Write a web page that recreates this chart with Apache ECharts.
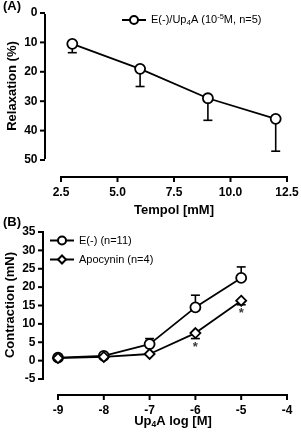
<!DOCTYPE html>
<html>
<head>
<meta charset="utf-8">
<script src="https://cdn.jsdelivr.net/npm/echarts@6/dist/echarts.min.js"></script>
<style>
  html, body { margin: 0; padding: 0; background: #fff; }
  #main { width: 301px; height: 434px; }
</style>
</head>
<body>
<div id="main"></div>
<script>
// panel A
var tempolX = [3, 6, 9, 12];
var relaxMean = [10.5, 19, 29, 36];
var relaxErr = [13.5, 25, 36.5, 47];
var xTicksA = [2.5, 5, 7.5, 10, 12.5];
var yTicksA = [0, 10, 20, 30, 40, 50];

// panel B
var logDose = [-9, -8, -7, -6, -5];
var ctrlMean = [0.8, 1.3, 4.5, 14.5, 22.5];
var ctrlErr = [1.0, 1.6, 6.0, 17.8, 25.5];
var apoMean = [0.7, 1.0, 1.8, 7.5, 16.3];
var apoErr = [0.6, 0.9, 1.6, 6.0, 15.2];
var starX = [-6, -5];
var starY = [3.6, 12.8];
var xTicksB = [-9, -8, -7, -6, -5, -4];
var yTicksB = [-5, 0, 5, 10, 15, 20, 25, 30, 35];

var font = 'Liberation Sans, Arial, sans-serif';
var labelFont = 'bold 12px ' + font;
var myChart = echarts.init(document.getElementById('main'));

function pairs(xs, ys) {
	return xs.map(function(x, i) { return [x, ys[i]]; });
}

function errData(xs, means, errs) {
	return xs.map(function(x, i) { return [x, means[i], errs[i]]; });
}

// error bar: mean -> err with a small cap
function errBar(params, api) {
	var p0 = api.coord([api.value(0), api.value(1)]);
	var p1 = api.coord([api.value(0), api.value(2)]);
	var st = { stroke: '#000', lineWidth: 1.6 };
	return {
		type: 'group',
		children: [
			{ type: 'line', shape: { x1: p0[0], y1: p0[1], x2: p1[0], y2: p1[1] }, style: st },
			{ type: 'line', shape: { x1: p1[0] - 4.5, y1: p1[1], x2: p1[0] + 4.5, y2: p1[1] }, style: st }
		]
	};
}

// detached axes, drawn as lines only (same pattern as the error bars)
function yAxisLines(shift) {
	return function(params, api) {
		var xe = api.value(0);
		var p = api.coord([xe, api.value(1)]);
		var x = p[0] - shift;
		var st = { stroke: '#000', lineWidth: 2 };
		var kids = [{ type: 'line', shape: { x1: x - 5, y1: p[1], x2: x, y2: p[1] }, style: st }];
		if (params.dataIndex === 0) {
			var q = api.coord([xe, api.value(2)]);
			kids.push({ type: 'line', shape: { x1: x, y1: p[1] + 1, x2: x, y2: q[1] - 1 }, style: st });
		}
		return { type: 'group', children: kids };
	};
}

function xAxisLines(shift) {
	return function(params, api) {
		var ye = api.value(1);
		var p = api.coord([api.value(0), ye]);
		var y = p[1] + shift;
		var st = { stroke: '#000', lineWidth: 2 };
		var kids = [{ type: 'line', shape: { x1: p[0], y1: y, x2: p[0], y2: y + 5 }, style: st }];
		if (params.dataIndex === 0) {
			var q = api.coord([api.value(2), ye]);
			kids.push({ type: 'line', shape: { x1: p[0] - 1, y1: y, x2: q[0] + 1, y2: y }, style: st });
		}
		return { type: 'group', children: kids };
	};
}

function yAxisText(shift) {
	return function(params, api) {
		var p = api.coord([api.value(0), api.value(1)]);
		return { type: 'text', x: p[0] - shift - 7.5, y: p[1],
			style: { text: String(api.value(1)), font: labelFont, fill: '#000', align: 'right', verticalAlign: 'middle' } };
	};
}

function xAxisText(shift, dec) {
	return function(params, api) {
		var v = api.value(0);
		var p = api.coord([v, api.value(1)]);
		return { type: 'text', x: p[0], y: p[1] + shift + 10,
			style: { text: dec ? v.toFixed(1) : String(v), font: labelFont, fill: '#000', align: 'center', verticalAlign: 'top' } };
	};
}

var nameFont = 'bold 13px ' + font;
var subFont = 'bold 8.5px ' + font;

var yEdgeA = yTicksA.map(function(v) { return [xTicksA[0], v, yTicksA[yTicksA.length - 1]]; });
var xEdgeA = xTicksA.map(function(v) { return [v, yTicksA[yTicksA.length - 1], xTicksA[xTicksA.length - 1]]; });
var yEdgeB = yTicksB.map(function(v) { return [xTicksB[0], v, yTicksB[yTicksB.length - 1]]; });
var xEdgeB = xTicksB.map(function(v) { return [v, yTicksB[0], xTicksB[xTicksB.length - 1]]; });

option = {
	animation: false,
	graphic: [
		{ type: 'text', left: 3, top: 0, style: { text: '(A)', font: 'bold 13px ' + font, fill: '#000' } },
		{ type: 'text', left: 3, top: 216, style: { text: '(B)', font: 'bold 13px ' + font, fill: '#000' } },
		{ type: 'text', x: 12, y: 86, rotation: Math.PI / 2,
			style: { text: 'Relaxation (%)', font: nameFont, fill: '#000', align: 'center', verticalAlign: 'middle' } },
		{ type: 'text', x: 174, y: 210,
			style: { text: 'Tempol [mM]', font: nameFont, fill: '#000', align: 'center', verticalAlign: 'middle' } },
		{ type: 'text', x: 10, y: 305, rotation: Math.PI / 2,
			style: { text: 'Contraction (mN)', font: nameFont, fill: '#000', align: 'center', verticalAlign: 'middle' } },
		{ type: 'text', x: 173, y: 421,
			style: { text: 'Up{s|4}A log [M]', font: nameFont, fill: '#000', align: 'center', verticalAlign: 'middle',
				rich: { s: { font: subFont, fill: '#000', verticalAlign: 'bottom', padding: [7, 0, 0, 0] } } } }
	],
	grid: [
		{ left: 61, top: 13, width: 226, height: 147, outerBoundsMode: 'none', containLabel: false },
		{ left: 58, top: 232, width: 229, height: 147, outerBoundsMode: 'none', containLabel: false }
	],
	legend: [
		{
			data: ['E(-)/Up4A (10-5M, n=5)'],
			left: 116, top: 8,
			itemWidth: 24, itemHeight: 10, itemGap: 4,
			formatter: function() { return 'E(-)/Up{sub|4}A (10{sup|-5}M, n=5)'; },
			textStyle: { color: '#000', fontFamily: font, fontSize: 11, rich: {
				sub: { fontSize: 8, verticalAlign: 'bottom', padding: [6, 0, 0, 0], fontFamily: font, color: '#000' },
				sup: { fontSize: 7.5, verticalAlign: 'top', padding: [0, 0, 6, 0], fontFamily: font, color: '#000' }
			} }
		},
		{
			data: ['E(-) (n=11)', 'Apocynin (n=4)'],
			orient: 'vertical',
			left: 44, top: 230,
			itemWidth: 24, itemHeight: 10, itemGap: 8,
			textStyle: { color: '#000', fontFamily: font, fontSize: 11 }
		}
	],
	xAxis: [
		{ gridIndex: 0, type: 'value', min: 2.5, max: 12.5, interval: 2.5, show: false },
		{ gridIndex: 1, type: 'value', min: -9, max: -4, interval: 1, show: false }
	],
	yAxis: [
		{ gridIndex: 0, type: 'value', min: 0, max: 50, interval: 10, inverse: true, show: false },
		{ gridIndex: 1, type: 'value', min: -5, max: 35, interval: 5, show: false }
	],
	series: [
		// axis lines and ticks
		{ type: 'custom', xAxisIndex: 0, yAxisIndex: 0, clip: false, renderItem: yAxisLines(16), data: yEdgeA, z: 1 },
		{ type: 'custom', xAxisIndex: 0, yAxisIndex: 0, clip: false, renderItem: xAxisLines(17), data: xEdgeA, z: 1 },
		{ type: 'custom', xAxisIndex: 1, yAxisIndex: 1, clip: false, renderItem: yAxisLines(15), data: yEdgeB, z: 1 },
		{ type: 'custom', xAxisIndex: 1, yAxisIndex: 1, clip: false, renderItem: xAxisLines(16), data: xEdgeB, z: 1 },
		// tick labels
		{ type: 'custom', xAxisIndex: 0, yAxisIndex: 0, clip: false, silent: true, renderItem: yAxisText(16), data: yEdgeA },
		{ type: 'custom', xAxisIndex: 0, yAxisIndex: 0, clip: false, silent: true, renderItem: xAxisText(17, true), data: xEdgeA },
		{ type: 'custom', xAxisIndex: 1, yAxisIndex: 1, clip: false, silent: true, renderItem: yAxisText(15), data: yEdgeB },
		{ type: 'custom', xAxisIndex: 1, yAxisIndex: 1, clip: false, silent: true, renderItem: xAxisText(16, false), data: xEdgeB },
		// panel A
		{
			type: 'custom', xAxisIndex: 0, yAxisIndex: 0, renderItem: errBar, clip: false,
			data: errData(tempolX, relaxMean, relaxErr), z: 1
		},
		{
			name: 'E(-)/Up4A (10-5M, n=5)', type: 'line', xAxisIndex: 0, yAxisIndex: 0,
			data: pairs(tempolX, relaxMean),
			symbol: 'circle', symbolSize: 10,
			lineStyle: { color: '#000', width: 1.8 },
			itemStyle: { color: '#fff', borderColor: '#000', borderWidth: 1.8 }, z: 3
		},
		// panel B
		{
			type: 'custom', xAxisIndex: 1, yAxisIndex: 1, renderItem: errBar, clip: false,
			data: errData(logDose, ctrlMean, ctrlErr), z: 1
		},
		{
			type: 'custom', xAxisIndex: 1, yAxisIndex: 1, renderItem: errBar, clip: false,
			data: errData(logDose, apoMean, apoErr), z: 1
		},
		{
			name: 'E(-) (n=11)', type: 'line', xAxisIndex: 1, yAxisIndex: 1,
			data: pairs(logDose, ctrlMean),
			symbol: 'circle', symbolSize: 10,
			lineStyle: { color: '#000', width: 1.8 },
			itemStyle: { color: '#fff', borderColor: '#000', borderWidth: 1.8 }, z: 3
		},
		{
			name: 'Apocynin (n=4)', type: 'line', xAxisIndex: 1, yAxisIndex: 1,
			data: pairs(logDose, apoMean),
			symbol: 'diamond', symbolSize: 10,
			lineStyle: { color: '#000', width: 1.8 },
			itemStyle: { color: '#fff', borderColor: '#000', borderWidth: 1.8 }, z: 3
		},
		{
			type: 'scatter', xAxisIndex: 1, yAxisIndex: 1,
			data: pairs(starX, starY), symbolSize: 1, itemStyle: { color: 'transparent' },
			label: { show: true, position: 'inside', formatter: '*', color: '#000', fontFamily: font, fontWeight: 'bold', fontSize: 13 },
			silent: true
		}
	]
};

myChart.setOption(option);
</script>
</body>
</html>
